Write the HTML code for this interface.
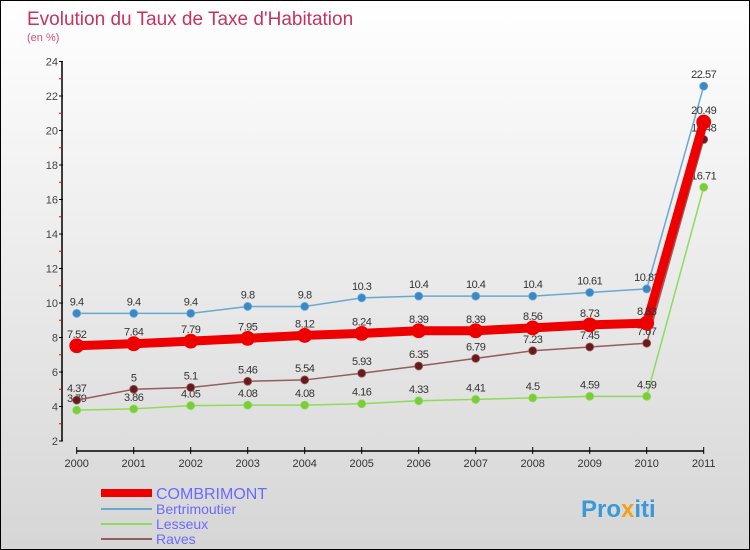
<!DOCTYPE html>
<html><head><meta charset="utf-8"><style>
body{margin:0}
#c{position:relative;width:748px;height:548px;border:1px solid #000;background:linear-gradient(#fff,#d6d6d6);font-family:"Liberation Sans",sans-serif;overflow:hidden}
</style></head><body>
<div id="c">
<svg id="s" width="748" height="548" style="position:absolute;left:0;top:0">
<text x="26" y="24" font-size="19" fill="#c8325f">Evolution du Taux de Taxe d'Habitation</text>
<text x="26" y="40" font-size="11" fill="#d0507a">(en %)</text>
<g id="axes"></g><g id="series"></g>
<g>
<rect x="100" y="488" width="51" height="8" fill="#e00"/>
<text x="155" y="498" font-size="16" fill="#6a6aff">COMBRIMONT</text>
<line x1="100" y1="508" x2="151" y2="508" stroke="#6aa8d0" stroke-width="2"/>
<text x="155" y="513" font-size="14" fill="#6a6aff">Bertrimoutier</text>
<line x1="100" y1="523" x2="151" y2="523" stroke="#8cdc5a" stroke-width="2"/>
<text x="155" y="528" font-size="14" fill="#6a6aff">Lesseux</text>
<line x1="100" y1="538" x2="151" y2="538" stroke="#945c5c" stroke-width="2"/>
<text x="155" y="543" font-size="14" fill="#6a6aff">Raves</text>
</g>
<text x="580" y="516" font-size="24" font-weight="bold" fill="#3a9ad8">Pro<tspan fill="#f0a020">x</tspan>iti</text>
</svg>
</div>
<script>
const years=[2000,2001,2002,2003,2004,2005,2006,2007,2008,2009,2010,2011];
const combrimont=[7.52,7.64,7.79,7.95,8.12,8.24,8.39,8.39,8.56,8.73,8.83,20.49];
const bertrimoutier=[9.4,9.4,9.4,9.8,9.8,10.3,10.4,10.4,10.4,10.61,10.82,22.57];
const lesseux=[3.79,3.86,4.05,4.08,4.08,4.16,4.33,4.41,4.5,4.59,4.59,16.71];
const raves=[4.37,5,5.1,5.46,5.54,5.93,6.35,6.79,7.23,7.45,7.67,19.48];
const yTicks=[2,4,6,8,10,12,14,16,18,20,22,24];
const NS='http://www.w3.org/2000/svg';
const X=i=>75.7+i*57;
const Y=v=>440-(v-2)*17.25;
function mk(tag,at,parent){const e=document.createElementNS(NS,tag);for(const k in at)e.setAttribute(k,at[k]);parent.appendChild(e);return e;}
const ax=document.getElementById('axes'),sg=document.getElementById('series');
let l=mk('line',{x1:61,y1:Y(24),x2:61,y2:Y(2),stroke:'#000','stroke-width':1.5},ax);


yTicks.forEach(t=>{
 let tk=mk('line',{x1:58,y1:Y(t),x2:62,y2:Y(t),stroke:'#000'},ax);
 
 
 let m=mk('line',{x1:58,y1:Y(t+1),x2:61,y2:Y(t+1),stroke:'#e00'},ax);
 if(t==24)m.remove();
 let tx=mk('text',{x:57,y:Y(t)+4,'font-size':11,fill:'#444','text-anchor':'end'},ax);
 tx.textContent=t;
 
 
});
l=mk('line',{x1:X(0),y1:450,x2:X(11),y2:450,stroke:'#000','stroke-width':1.5},ax);


years.forEach((y,i)=>{
 mk('line',{x1:X(i),y1:446,x2:X(i),y2:453,stroke:'#000'},ax);
 let tx=mk('text',{x:X(i),y:466,'font-size':11,fill:'#333','text-anchor':'middle'},ax);
 tx.textContent=y;
 
 
});
function series(vals,name,col,dot,w,r){
 const g=mk('g',{},sg);
 
 
 mk('polyline',{points:vals.map((v,i)=>X(i)+','+Y(v)).join(' '),fill:'none',stroke:col,'stroke-width':w},g);
 vals.forEach((v,i)=>{
  let c=mk('circle',{cx:X(i),cy:Y(v),r:r,fill:dot,stroke:col,'stroke-width':0.8},g);
  
  
  let t=mk('text',{x:X(i),y:Y(v)-8,'font-size':11,fill:'#333','text-anchor':'middle','letter-spacing':'-0.5'},g);
  t.textContent=v;
  
  
 });
}
series(lesseux,'lesseux','#8cdc5a','#7ccc3a',1.5,4);
series(raves,'raves','#945c5c','#6a1a1a',1.5,4);
series(bertrimoutier,'bertrimoutier','#6aa8d0','#3a88c8',1.5,4);
series(combrimont,'combrimont','#ee0000','#ee0000',9,7);
</script>
</body></html>
